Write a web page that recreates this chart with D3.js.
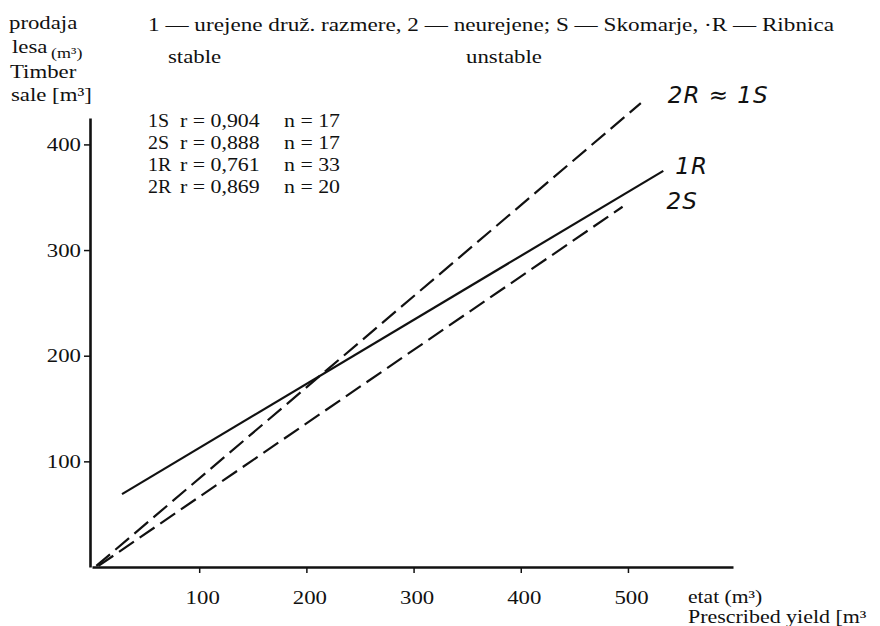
<!DOCTYPE html>
<html lang="sl">
<head>
<meta charset="UTF-8">
<title>Prodaja lesa / etat</title>
<script src="https://d3js.org/d3.v7.min.js"></script>
<style>
    body { margin: 0; background: #fff; }
    svg { display: block; }
    text { font-family: "Liberation Serif", "DejaVu Serif", serif; fill: #111; }
    .hand { font-family: "DejaVu Sans", sans-serif; font-style: italic; }
    .axis path, .axis line { stroke: #111; }
</style>
</head>
<body>
<svg width="880" height="626"></svg>
<script>
// tick labels
const xTicks = [100, 200, 300, 400, 500];
const yTicks = [100, 200, 300, 400];

// regression lines: [x, y] start and end
const lineNames = ["1R", "2S", "2R"];
const lineStart = [[28, 69], [6, 1], [4, 1]];
const lineEnd = [[533, 375], [495, 341], [512, 439]];
const lineDashed = [false, true, true];
const lineLabels = ["1R", "2S", "2R ≈ 1S"];

// correlation table
const statNames = ["1S", "2S", "1R", "2R"];
const statR = ["0,904", "0,888", "0,761", "0,869"];
const statN = [17, 17, 33, 20];

const svg = d3.select("svg");
const stretch = 1.2; // the printed type is a bit wide

// text helper: anchored at (px, py), widened horizontally
function label(px, py, str, size, sx = stretch) {
    return svg.append("text")
        .attr("transform", `translate(${px},${py}) scale(${sx},1)`)
        .style("font-size", size + "px")
        .text(str);
}

const x = d3.scaleLinear().domain([0, 598]).range([92, 733]);
const y = d3.scaleLinear().domain([0, 425]).range([567, 118]);

// axes
const gx = svg.append("g")
    .attr("class", "axis")
    .attr("transform", `translate(0,${y(0)})`)
    .call(d3.axisBottom(x).tickValues(xTicks).tickSize(6).tickSizeOuter(0));
gx.select(".domain").attr("stroke-width", 2.6);
gx.selectAll(".tick line").attr("stroke-width", 1.5);
gx.selectAll(".tick text")
    .attr("y", 0).attr("dy", 0)
    .attr("transform", `translate(3,37) scale(${stretch},1)`)
    .style("font-size", "19px")
    .style("font-family", "Liberation Serif");

const gy = svg.append("g")
    .attr("class", "axis")
    .attr("transform", `translate(${x(0) - 2},0)`)
    .call(d3.axisLeft(y).tickValues(yTicks).tickSize(6).tickSizeOuter(0));
gy.select(".domain").attr("stroke-width", 2.6);
gy.selectAll(".tick line").attr("stroke-width", 1.5);
gy.selectAll(".tick text")
    .attr("x", 0)
    .attr("transform", `translate(-9,0) scale(${stretch},1)`)
    .style("font-size", "19px")
    .style("font-family", "Liberation Serif");

// lines
const lineGen = d3.line().x(d => x(d[0])).y(d => y(d[1]));

lineNames.forEach((name, i) => {
    svg.append("path")
        .datum([lineStart[i], lineEnd[i]])
        .attr("d", lineGen)
        .attr("fill", "none")
        .attr("stroke", "#111")
        .attr("stroke-width", 2.2)
        .attr("stroke-dasharray", lineDashed[i] ? "18,7" : null);
});

// handwritten line labels
const labelOffsets = [[12, 3], [44, 2], [27, 0]];
lineLabels.forEach((lab, i) => {
    svg.append("text")
        .attr("class", "hand")
        .attr("x", x(lineEnd[i][0]) + labelOffsets[i][0])
        .attr("y", y(lineEnd[i][1]) + labelOffsets[i][1])
        .style("font-size", "23px")
        .style("letter-spacing", "1px")
        .text(lab);
});

// y axis title
label(9, 29, "prodaja", 19);
const lesa = label(12, 53, "", 19);
lesa.append("tspan").text("lesa");
lesa.append("tspan").attr("dy", 5).attr("dx", 3).style("font-size", "15px").text("(m³)");
label(10, 78, "Timber", 19);
label(11, 101, "sale [m³]", 19);

// x axis title
label(688, 603, "etat (m³)", 18);
label(688, 623, "Prescribed yield [m³", 18, 1.22);

// header
label(148, 31, "1 — urejene druž. razmere, 2 — neurejene; S — Skomarje, ·R — Ribnica", 19, 1.22);
label(168, 63, "stable", 19);
label(466, 63, "unstable", 19);

// stats table
statNames.forEach((s, i) => {
    const yy = 127 + i * 22;
    label(148, yy, s, 19, 1.05);
    label(180, yy, `r = ${statR[i]}`, 19, 1.15);
    label(284, yy, `n = ${statN[i]}`, 19, 1.15);
});
</script>
</body>
</html>
